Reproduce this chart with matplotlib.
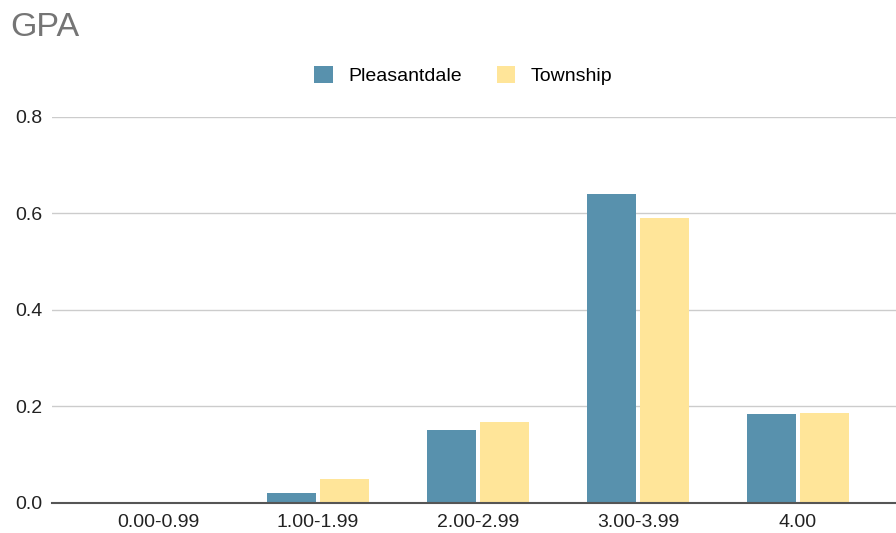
import numpy as np
import matplotlib
matplotlib.use('Agg')
import matplotlib.pyplot as plt

categories = ['0.00-0.99', '1.00-1.99', '2.00-2.99', '3.00-3.99', '4.00']
pleasantdale = [0.0, 0.021, 0.151, 0.640, 0.184]
township = [0.0, 0.050, 0.168, 0.591, 0.187]
yticks = [0.0, 0.2, 0.4, 0.6, 0.8]

plt.rcParams['font.family'] = ['Liberation Sans', 'DejaVu Sans']

fig = plt.figure(figsize=(8.96, 5.33), dpi=100)
ax = fig.add_axes([0.058, 0.0563, 0.942, 0.7242])

x = np.arange(len(categories))
w = 0.306
ax.bar(x - 0.163, pleasantdale, w, color='#5891ad', label='Pleasantdale', zorder=3)
ax.bar(x + 0.163, township, w, color='#ffe599', label='Township', zorder=3)

ax.set_xlim(-0.6625, 4.6125)
ax.set_ylim(0, 0.8)
ax.set_yticks(yticks)
ax.set_yticklabels([f'{v:.1f}' for v in yticks])
ax.set_xticks(x)
ax.set_xticklabels(categories)
ax.tick_params(axis='both', length=0, labelsize=14, colors='#222222')
ax.tick_params(axis='y', pad=7)
ax.tick_params(axis='x', pad=8)
ax.grid(axis='y', color='#cccccc', linewidth=1, zorder=0)
for s in ['top', 'right', 'left']:
    ax.spines[s].set_visible(False)
ax.spines['bottom'].set_color('#555555')
ax.spines['bottom'].set_linewidth(1.5)
ax.spines['bottom'].set_zorder(4)

fig.text(0.011, 0.948, 'GPA', fontsize=24.5, color='#757575', va='center', ha='left')
fig.legend(loc='center', bbox_to_anchor=(0.517, 0.858), ncol=2, frameon=False,
           fontsize=14, handlelength=0.95, handleheight=0.95, columnspacing=1.8,
           handletextpad=0.8)

plt.savefig('out.png', dpi=100)
